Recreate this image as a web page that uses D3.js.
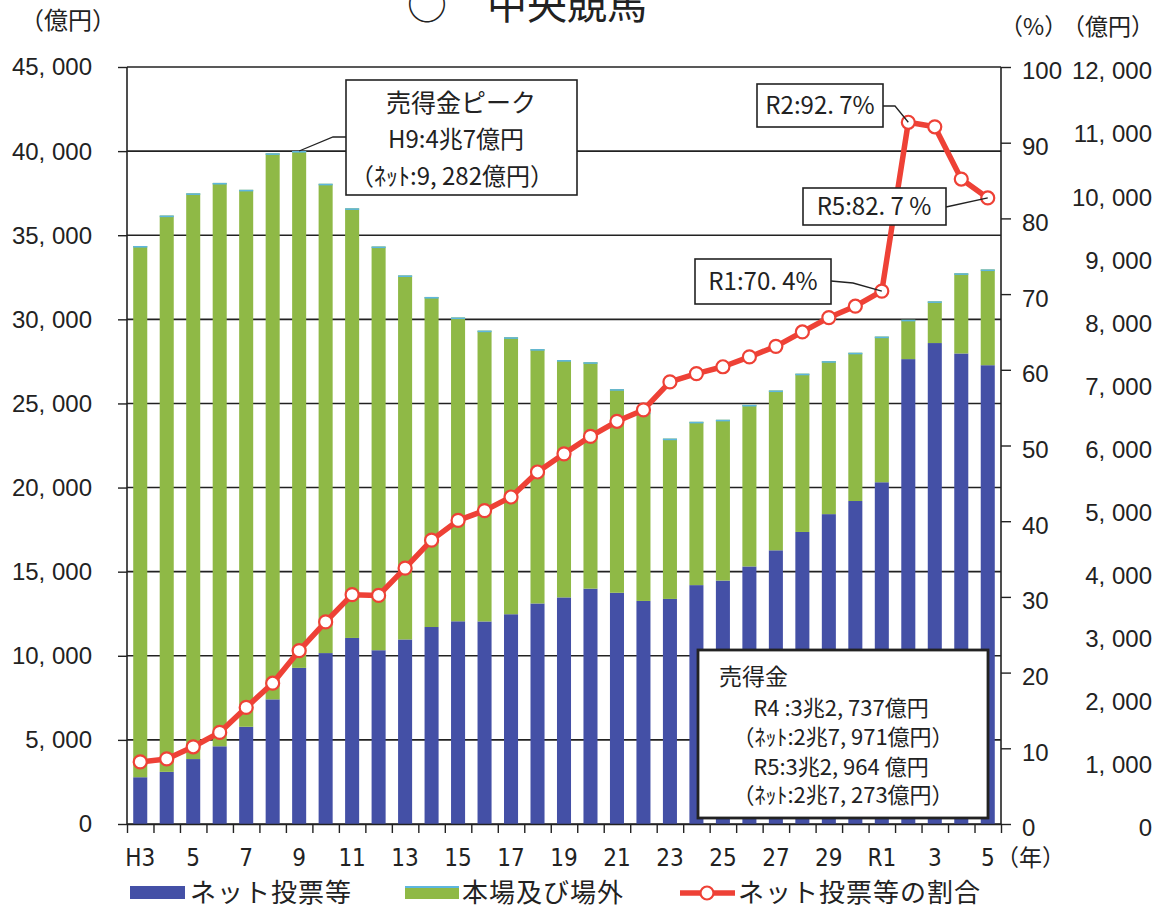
<!DOCTYPE html>
<html lang="ja">
<head>
<meta charset="utf-8">
<script src="https://cdn.jsdelivr.net/npm/d3@7"></script>
<style>
  html, body { margin: 0; padding: 0; background: #ffffff; }
  svg { display: block; }
  .num { font-family: "Liberation Sans", Arial, sans-serif; fill: #222; }
  .cond { font-family: "Liberation Sans Narrow", "DejaVu Sans Condensed", "Liberation Sans", sans-serif; fill: #222; }
  .jp { font-family: "Noto Sans CJK JP", "Noto Sans", sans-serif; fill: #222; }
</style>
</head>
<body>
<svg id="chart" width="1156" height="912"></svg>
<script>
// Fiscal years H3 (1991) through R5 (2023)
const years = ["H3","H4","H5","H6","H7","H8","H9","H10","H11","H12","H13","H14","H15","H16","H17",
  "H18","H19","H20","H21","H22","H23","H24","H25","H26","H27","H28","H29","H30","R1","R2","R3","R4","R5"];

// Every other year is labelled on the axis
const xTickYears  = ["H3","H5","H7","H9","H11","H13","H15","H17","H19","H21","H23","H25","H27","H29","R1","R3","R5"];
const xTickLabels = ["H3","5","7","9","11","13","15","17","19","21","23","25","27","29","R1","3","5"];

// 売得金 total (億円)
const totalSales = [34360, 36170, 37490, 38110, 37700, 39870, 40007, 38060, 36600, 34330, 32610, 31330,
  30110, 29330, 28935, 28230, 27580, 27450, 25850, 24450, 22910, 23910, 24030, 24915, 25770, 26770,
  27515, 28015, 28975, 29975, 31070, 32737, 32964];

// ネット投票等 (億円)
const netSales = [2780, 3100, 3860, 4620, 5780, 7410, 9282, 10160, 11060, 10330, 10970, 11710,
  12050, 12040, 12470, 13110, 13470, 13990, 13745, 13260, 13380, 14200, 14470, 15310, 16270, 17360,
  18420, 19200, 20315, 27635, 28590, 27971, 27273];

// ネット投票等の割合 (%)
const netShare = [8.2, 8.6, 10.2, 12.1, 15.4, 18.6, 22.9, 26.7, 30.3, 30.2, 33.8, 37.5,
  40.1, 41.4, 43.2, 46.5, 48.9, 51.2, 53.2, 54.7, 58.4, 59.5, 60.4, 61.7, 63.1, 65.0,
  66.9, 68.4, 70.4, 92.7, 92.1, 85.2, 82.7];

const leftTicks  = [0, 5000, 10000, 15000, 20000, 25000, 30000, 35000, 40000, 45000];
const pctTicks   = [0, 10, 20, 30, 40, 50, 60, 70, 80, 90, 100];
const rightTicks = [0, 1000, 2000, 3000, 4000, 5000, 6000, 7000, 8000, 9000, 10000, 11000, 12000];

const seriesNames = ["ネット投票等", "本場及び場外"];
const colors = { net: "#4450a6", venue: "#8fb946", line: "#ee4136", edge: "#5db6df", ink: "#222" };

const svg = d3.select("#chart");
const plot = { left: 127, right: 1001, top: 67, bottom: 824 };

const x = d3.scaleBand().domain(years).range([plot.left, plot.right])
  .paddingInner(0.47).paddingOuter(0.235);
const xEdge = d3.scaleLinear().domain([0, years.length]).range([plot.left, plot.right]);
const yL = d3.scaleLinear().domain([0, 45000]).range([plot.bottom, plot.top]);
const yP = d3.scaleLinear().domain([0, 100]).range([plot.bottom, plot.top]);
const yY = d3.scaleLinear().domain([0, 12000]).range([plot.bottom, plot.top]);

const fmt = v => d3.format(",")(v).replace(",", ", ");

// horizontal gridlines
svg.append("g").selectAll("line").data(leftTicks).join("line")
  .attr("x1", plot.left).attr("x2", plot.right)
  .attr("y1", d => yL(d)).attr("y2", d => yL(d))
  .attr("stroke", colors.ink).attr("stroke-width", 1.6);

// stacked bars
const rows = years.map((yr, i) => ({ year: yr, net: netSales[i], venue: totalSales[i] - netSales[i] }));
const stack = d3.stack().keys(["net", "venue"])(rows);
const gBars = svg.append("g");
gBars.selectAll("g").data(stack).join("g")
  .attr("fill", d => d.key === "net" ? colors.net : colors.venue)
  .selectAll("rect").data(d => d).join("rect")
  .attr("x", d => x(d.data.year))
  .attr("width", x.bandwidth())
  .attr("y", d => yL(d[1]))
  .attr("height", d => yL(d[0]) - yL(d[1]));
// light edge along bar tops
gBars.append("g").selectAll("line").data(rows).join("line")
  .attr("x1", d => x(d.year)).attr("x2", d => x(d.year) + x.bandwidth())
  .attr("y1", d => yL(d.net + d.venue) + 0.8).attr("y2", d => yL(d.net + d.venue) + 0.8)
  .attr("stroke", colors.edge).attr("stroke-width", 1.6);

// axes lines
svg.append("line").attr("x1", plot.left).attr("x2", plot.left)
  .attr("y1", plot.top).attr("y2", plot.bottom).attr("stroke", colors.ink).attr("stroke-width", 1.6);
svg.append("line").attr("x1", plot.right).attr("x2", plot.right)
  .attr("y1", plot.top).attr("y2", plot.bottom).attr("stroke", colors.ink).attr("stroke-width", 1.6);

// left axis
const axL = svg.append("g").attr("transform", `translate(${plot.left},0)`)
  .call(d3.axisLeft(yL).tickValues(leftTicks).tickSize(9).tickSizeOuter(0).tickFormat(""));
axL.select(".domain").remove();
axL.selectAll("line").attr("stroke", colors.ink).attr("stroke-width", 1.4);
svg.append("g").selectAll("text").data(leftTicks).join("text")
  .attr("class", "num").attr("font-size", 24)
  .attr("x", 92).attr("y", d => yL(d)).attr("dy", "0.35em")
  .attr("text-anchor", "end").text(fmt);

// right % axis
const axR = svg.append("g").attr("transform", `translate(${plot.right},0)`)
  .call(d3.axisRight(yP).tickValues(pctTicks).tickSize(10).tickSizeOuter(0).tickFormat(""));
axR.select(".domain").remove();
axR.selectAll("line").attr("stroke", colors.ink).attr("stroke-width", 1.4);
svg.append("g").selectAll("text").data(pctTicks).join("text")
  .attr("class", "num").attr("font-size", 24)
  .attr("x", 1022).attr("y", d => yP(d) + 4).attr("dy", "0.35em")
  .text(d => d);

// right 億円 labels
svg.append("g").selectAll("text").data(rightTicks).join("text")
  .attr("class", "num").attr("font-size", 24)
  .attr("x", 1152).attr("y", d => yY(d) + 4).attr("dy", "0.35em")
  .attr("text-anchor", "end").text(fmt);

// bottom axis: ticks at category boundaries
const axB = svg.append("g").attr("transform", `translate(0,${plot.bottom})`)
  .call(d3.axisBottom(xEdge).tickValues(d3.range(years.length + 1)).tickSize(9).tickSizeOuter(0).tickFormat(""));
axB.select(".domain").attr("stroke", colors.ink).attr("stroke-width", 1.6);
axB.selectAll("line").attr("stroke", colors.ink).attr("stroke-width", 1.4);
svg.append("g").selectAll("text").data(xTickYears).join("text")
  .attr("class", "cond").attr("font-size", 24)
  .attr("x", d => x(d) + x.bandwidth() / 2).attr("y", 858).attr("dy", "0.35em")
  .attr("text-anchor", "middle").text((d, i) => xTickLabels[i]);
svg.append("text").attr("class", "jp").attr("font-size", 23)
  .attr("x", 996).attr("y", 858).attr("dy", "0.35em").text("（年）");

// unit labels and title
svg.append("text").attr("class", "jp").attr("font-size", 24).attr("x", 20).attr("y", 21).attr("dy", "0.35em").text("（億円）");
svg.append("text").attr("class", "jp").attr("font-size", 23).attr("x", 1000).attr("y", 27).attr("dy", "0.35em").text("（%）");
svg.append("text").attr("class", "jp").attr("font-size", 23).attr("x", 1062).attr("y", 27).attr("dy", "0.35em").text("（億円）");
svg.append("text").attr("class", "jp").attr("font-size", 40).attr("x", 407).attr("y", 19).text("○　中央競馬");

// share line
const lineGen = d3.line().x((d, i) => x(years[i]) + x.bandwidth() / 2).y(d => yP(d));
svg.append("path").datum(netShare).attr("d", lineGen)
  .attr("fill", "none").attr("stroke", colors.line).attr("stroke-width", 5.5).attr("stroke-linejoin", "round");
svg.append("g").selectAll("circle").data(netShare).join("circle")
  .attr("cx", (d, i) => x(years[i]) + x.bandwidth() / 2).attr("cy", d => yP(d))
  .attr("r", 6.5).attr("fill", "#fff").attr("stroke", colors.line).attr("stroke-width", 2.2);

// annotation helpers
const px = yr => x(yr) + x.bandwidth() / 2;
const idx = yr => years.indexOf(yr);
function box(x0, y0, w, h, sw) {
  svg.append("rect").attr("x", x0).attr("y", y0).attr("width", w).attr("height", h)
    .attr("fill", "#fff").attr("stroke", colors.ink).attr("stroke-width", sw || 1.6);
}
function leader(points) {
  svg.append("path").attr("d", d3.line()(points)).attr("fill", "none")
    .attr("stroke", colors.ink).attr("stroke-width", 1.3);
}
function label(t, x0, y0, size, anchor) {
  svg.append("text").attr("class", "jp").attr("font-size", size).attr("x", x0).attr("y", y0)
    .attr("dy", "0.35em").attr("text-anchor", anchor || "middle").text(t);
}

// peak sales
leader([[px("H9"), yL(totalSales[idx("H9")])], [333, 137], [346, 137]]);
box(346, 80, 231, 115);
label("売得金ピーク", 461, 103, 25);
label("H9:4兆7億円", 456, 140, 24);
label("（ﾈｯﾄ:9, 282億円）", 452, 177, 24);

// R2
leader([[883, 106], [895, 106], [px("R2"), yP(netShare[idx("R2")])]]);
box(757, 84, 126, 43);
label("R2:92. 7%", 820, 106, 24);

// R5
leader([[946, 207], [px("R5"), yP(netShare[idx("R5")])]]);
box(803, 188, 143, 37);
label("R5:82. 7 %", 874, 207, 24);

// R1
leader([[831, 281], [853, 283], [px("R1"), yP(netShare[idx("R1")])]]);
box(695, 259, 136, 45);
label("R1:70. 4%", 763, 282, 24);

// recent sales summary
box(698, 650, 290, 168, 2.8);
label("売得金", 719, 677, 23, "start");
label("R4 :3兆2, 737億円", 841, 708, 22);
label("（ﾈｯﾄ:2兆7, 971億円）", 843, 737, 22);
label("R5:3兆2, 964 億円", 841, 767, 22);
label("（ﾈｯﾄ:2兆7, 273億円）", 843, 795, 22);

// legend
const lg = svg.append("g");
lg.append("rect").attr("x", 130).attr("y", 886).attr("width", 55).attr("height", 13).attr("fill", colors.net);
lg.append("text").attr("class", "jp").attr("font-size", 26).attr("x", 190).attr("y", 893).attr("dy", "0.36em")
  .attr("letter-spacing", 1).text(seriesNames[0]);
lg.append("rect").attr("x", 405).attr("y", 886).attr("width", 54).attr("height", 13).attr("fill", colors.venue);
lg.append("rect").attr("x", 405).attr("y", 886).attr("width", 54).attr("height", 2).attr("fill", colors.edge);
lg.append("text").attr("class", "jp").attr("font-size", 26).attr("x", 462).attr("y", 893).attr("dy", "0.36em")
  .attr("letter-spacing", 1).text(seriesNames[1]);
lg.append("line").attr("x1", 680).attr("x2", 735).attr("y1", 893).attr("y2", 893)
  .attr("stroke", colors.line).attr("stroke-width", 5.5);
lg.append("circle").attr("cx", 707).attr("cy", 893).attr("r", 6.5)
  .attr("fill", "#fff").attr("stroke", colors.line).attr("stroke-width", 2.2);
lg.append("text").attr("class", "jp").attr("font-size", 26).attr("x", 738).attr("y", 893).attr("dy", "0.36em")
  .attr("letter-spacing", 1).text("ネット投票等の割合");
</script>
</body>
</html>
